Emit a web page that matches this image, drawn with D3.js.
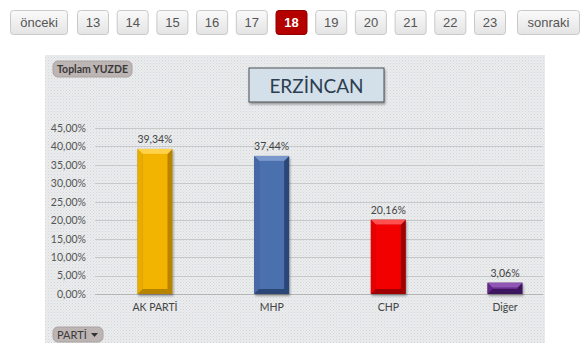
<!DOCTYPE html>
<html><head><meta charset="utf-8">
<script src="https://cdn.jsdelivr.net/npm/d3@7"></script>
<style>
html,body{margin:0;padding:0;background:#fff;}
svg{display:block;}
</style></head>
<body>
<svg id="c" width="585" height="355"></svg>
<script>
const pages = ["önceki","13","14","15","16","17","18","19","20","21","22","23","sonraki"];
const activePage = "18";
const title = "ERZİNCAN";
const categories = ["AK PARTİ","MHP","CHP","Diğer"];
const values = [39.34, 37.44, 20.16, 3.06];
const yTicks = [0,5,10,15,20,25,30,35,40,45];
const faceColors = ["#f2b400","#4b6fae","#f20000","#6b2c8e"];
const edgeColors = ["#b68400","#2c4677","#a00000","#3e1560"];
const lightColors = ["#ffd24a","#7a98cc","#ff5050","#9155b5"];

const svg = d3.select("#c");
const defs = svg.append("defs");
const pat = defs.append("pattern").attr("id","dots").attr("width",3).attr("height",3).attr("patternUnits","userSpaceOnUse");
pat.append("rect").attr("width",3).attr("height",3).attr("fill","#eaeced");
pat.append("rect").attr("width",1).attr("height",1).attr("fill","#d3d6d8");
pat.append("rect").attr("x",1.5).attr("y",1.5).attr("width",1).attr("height",1).attr("fill","#dadcde");

const bg = defs.append("linearGradient").attr("id","btn").attr("x1",0).attr("y1",0).attr("x2",0).attr("y2",1);
bg.append("stop").attr("offset","0").attr("stop-color","#fafafa");
bg.append("stop").attr("offset","1").attr("stop-color","#e4e4e4");
const fl = defs.append("filter").attr("id","sh").attr("x","-10%").attr("y","-10%").attr("width","130%").attr("height","140%");
fl.append("feDropShadow").attr("dx",1).attr("dy",2).attr("stdDeviation",1.2).attr("flood-color","#000").attr("flood-opacity",0.35);

// Pagination buttons
const btnX = d3.scaleLinear().domain([1,11]).range([77,474]);
const btnG = svg.append("g");
pages.forEach((p,i)=>{
  let x, w;
  if (i===0){ x=10; w=57; }
  else if (i===pages.length-1){ x=517; w=62; }
  else { x=btnX(i); w=31; }
  const active = p===activePage;
  btnG.append("rect").attr("x",x+0.5).attr("y",10.5).attr("width",w).attr("height",24).attr("rx",3)
    .attr("fill",active?"#b50000":"url(#btn)").attr("stroke",active?"#8f0000":"#c9c9c9");
  btnG.append("text").attr("x",x+w/2+0.5).attr("y",27).attr("text-anchor","middle")
    .attr("font-family","Liberation Sans, Arial, sans-serif").attr("font-size",13)
    .attr("font-weight",active?"bold":"normal")
    .attr("fill",active?"#fff":"#555").text(p);
});

// Chart panel
svg.append("rect").attr("x",45).attr("y",55).attr("width",500).attr("height",288).attr("fill","url(#dots)");

const y = d3.scaleLinear().domain([0,45]).range([294,128]);
const x = d3.scaleBand().domain(categories).range([95,565]).paddingInner(0.7).paddingOuter(0.364);

const font = "Lato, 'Open Sans', sans-serif";
// gridlines
svg.append("g").selectAll("line").data(yTicks).join("line")
  .attr("x1",95).attr("x2",543)
  .attr("y1",d=>Math.round(y(d))+0.5).attr("y2",d=>Math.round(y(d))+0.5)
  .attr("stroke",d=>d===0?"#b5b5b5":"#c6c8c9").attr("stroke-width",1);

// y axis
const yAxis = d3.axisLeft(y).tickValues(yTicks).tickSize(0).tickPadding(0)
  .tickFormat(d=>d3.format(".2f")(d).replace(".",",")+"%");
const ya = svg.append("g").attr("transform","translate(86,0)").call(yAxis);
ya.select(".domain").remove();
ya.selectAll("text").attr("font-family",font).attr("font-size",10.5).attr("fill","#555");

// x axis
const xAxis = d3.axisBottom(x).tickSize(0).tickPadding(0);
const xa = svg.append("g").attr("transform","translate(0,304)").call(xAxis);
xa.select(".domain").remove();
xa.selectAll("text").attr("font-family",font).attr("font-size",10.5).attr("fill","#444");

// bars with bevel
const bw = x.bandwidth();
const b = 5;
categories.forEach((c,i)=>{
  const x0 = x(c), x1 = x0+bw, y0 = y(values[i]), y1 = y(0);
  const g = svg.append("g").attr("filter","url(#sh)");
  g.append("rect").attr("x",x0).attr("y",y0).attr("width",bw).attr("height",y1-y0).attr("fill",edgeColors[i]);
  const bb = Math.min(b,(y1-y0)/2-0.5);
  g.append("polygon").attr("points",[[x0,y0],[x1,y0],[x1-b,y0+bb],[x0+b,y0+bb]].join(" ")).attr("fill",lightColors[i]);
  g.append("polygon").attr("points",[[x0,y0],[x0+b,y0+bb],[x0+b,y1-bb],[x0,y1]].join(" ")).attr("fill",faceColors[i]).attr("opacity",0.85);
  g.append("rect").attr("x",x0+b).attr("y",y0+bb).attr("width",bw-2*b).attr("height",Math.max(0,y1-y0-2*bb)).attr("fill",faceColors[i]);
  svg.append("text").attr("x",x0+bw/2).attr("y",y0-6).attr("text-anchor","middle")
    .attr("font-family",font).attr("font-size",10.5).attr("fill","#444")
    .text(d3.format(".2f")(values[i]).replace(".",",")+"%");
});

// Title box
svg.append("rect").attr("x",249).attr("y",68).attr("width",135).attr("height",34)
  .attr("fill","#d3e0ea").attr("stroke","#4a4f55").attr("stroke-width",1).attr("filter","url(#sh)");
svg.append("text").attr("x",316.5).attr("y",92.5).attr("text-anchor","middle")
  .attr("font-family",font).attr("font-size",19).attr("fill","#2c3e50").text(title);

// chips
svg.append("rect").attr("x",53).attr("y",61).attr("width",79).attr("height",16).attr("rx",5)
  .attr("fill","#bdb5b4").attr("stroke","#a9a2a1");
svg.append("text").attr("x",92.5).attr("y",73).attr("text-anchor","middle")
  .attr("font-family",font).attr("font-size",10.5).attr("font-weight","bold").attr("fill","#3a3a3a").text("Toplam YUZDE");
svg.append("rect").attr("x",53).attr("y",327).attr("width",50).attr("height",15).attr("rx",5)
  .attr("fill","#bdb5b4").attr("stroke","#a9a2a1");
svg.append("text").attr("x",57).attr("y",339)
  .attr("font-family",font).attr("font-size",11).attr("fill","#3a3a3a").text("PARTİ");
svg.append("path").attr("d","M91,333 L98,333 L94.5,337 Z").attr("fill","#333");
</script>
</body></html>
